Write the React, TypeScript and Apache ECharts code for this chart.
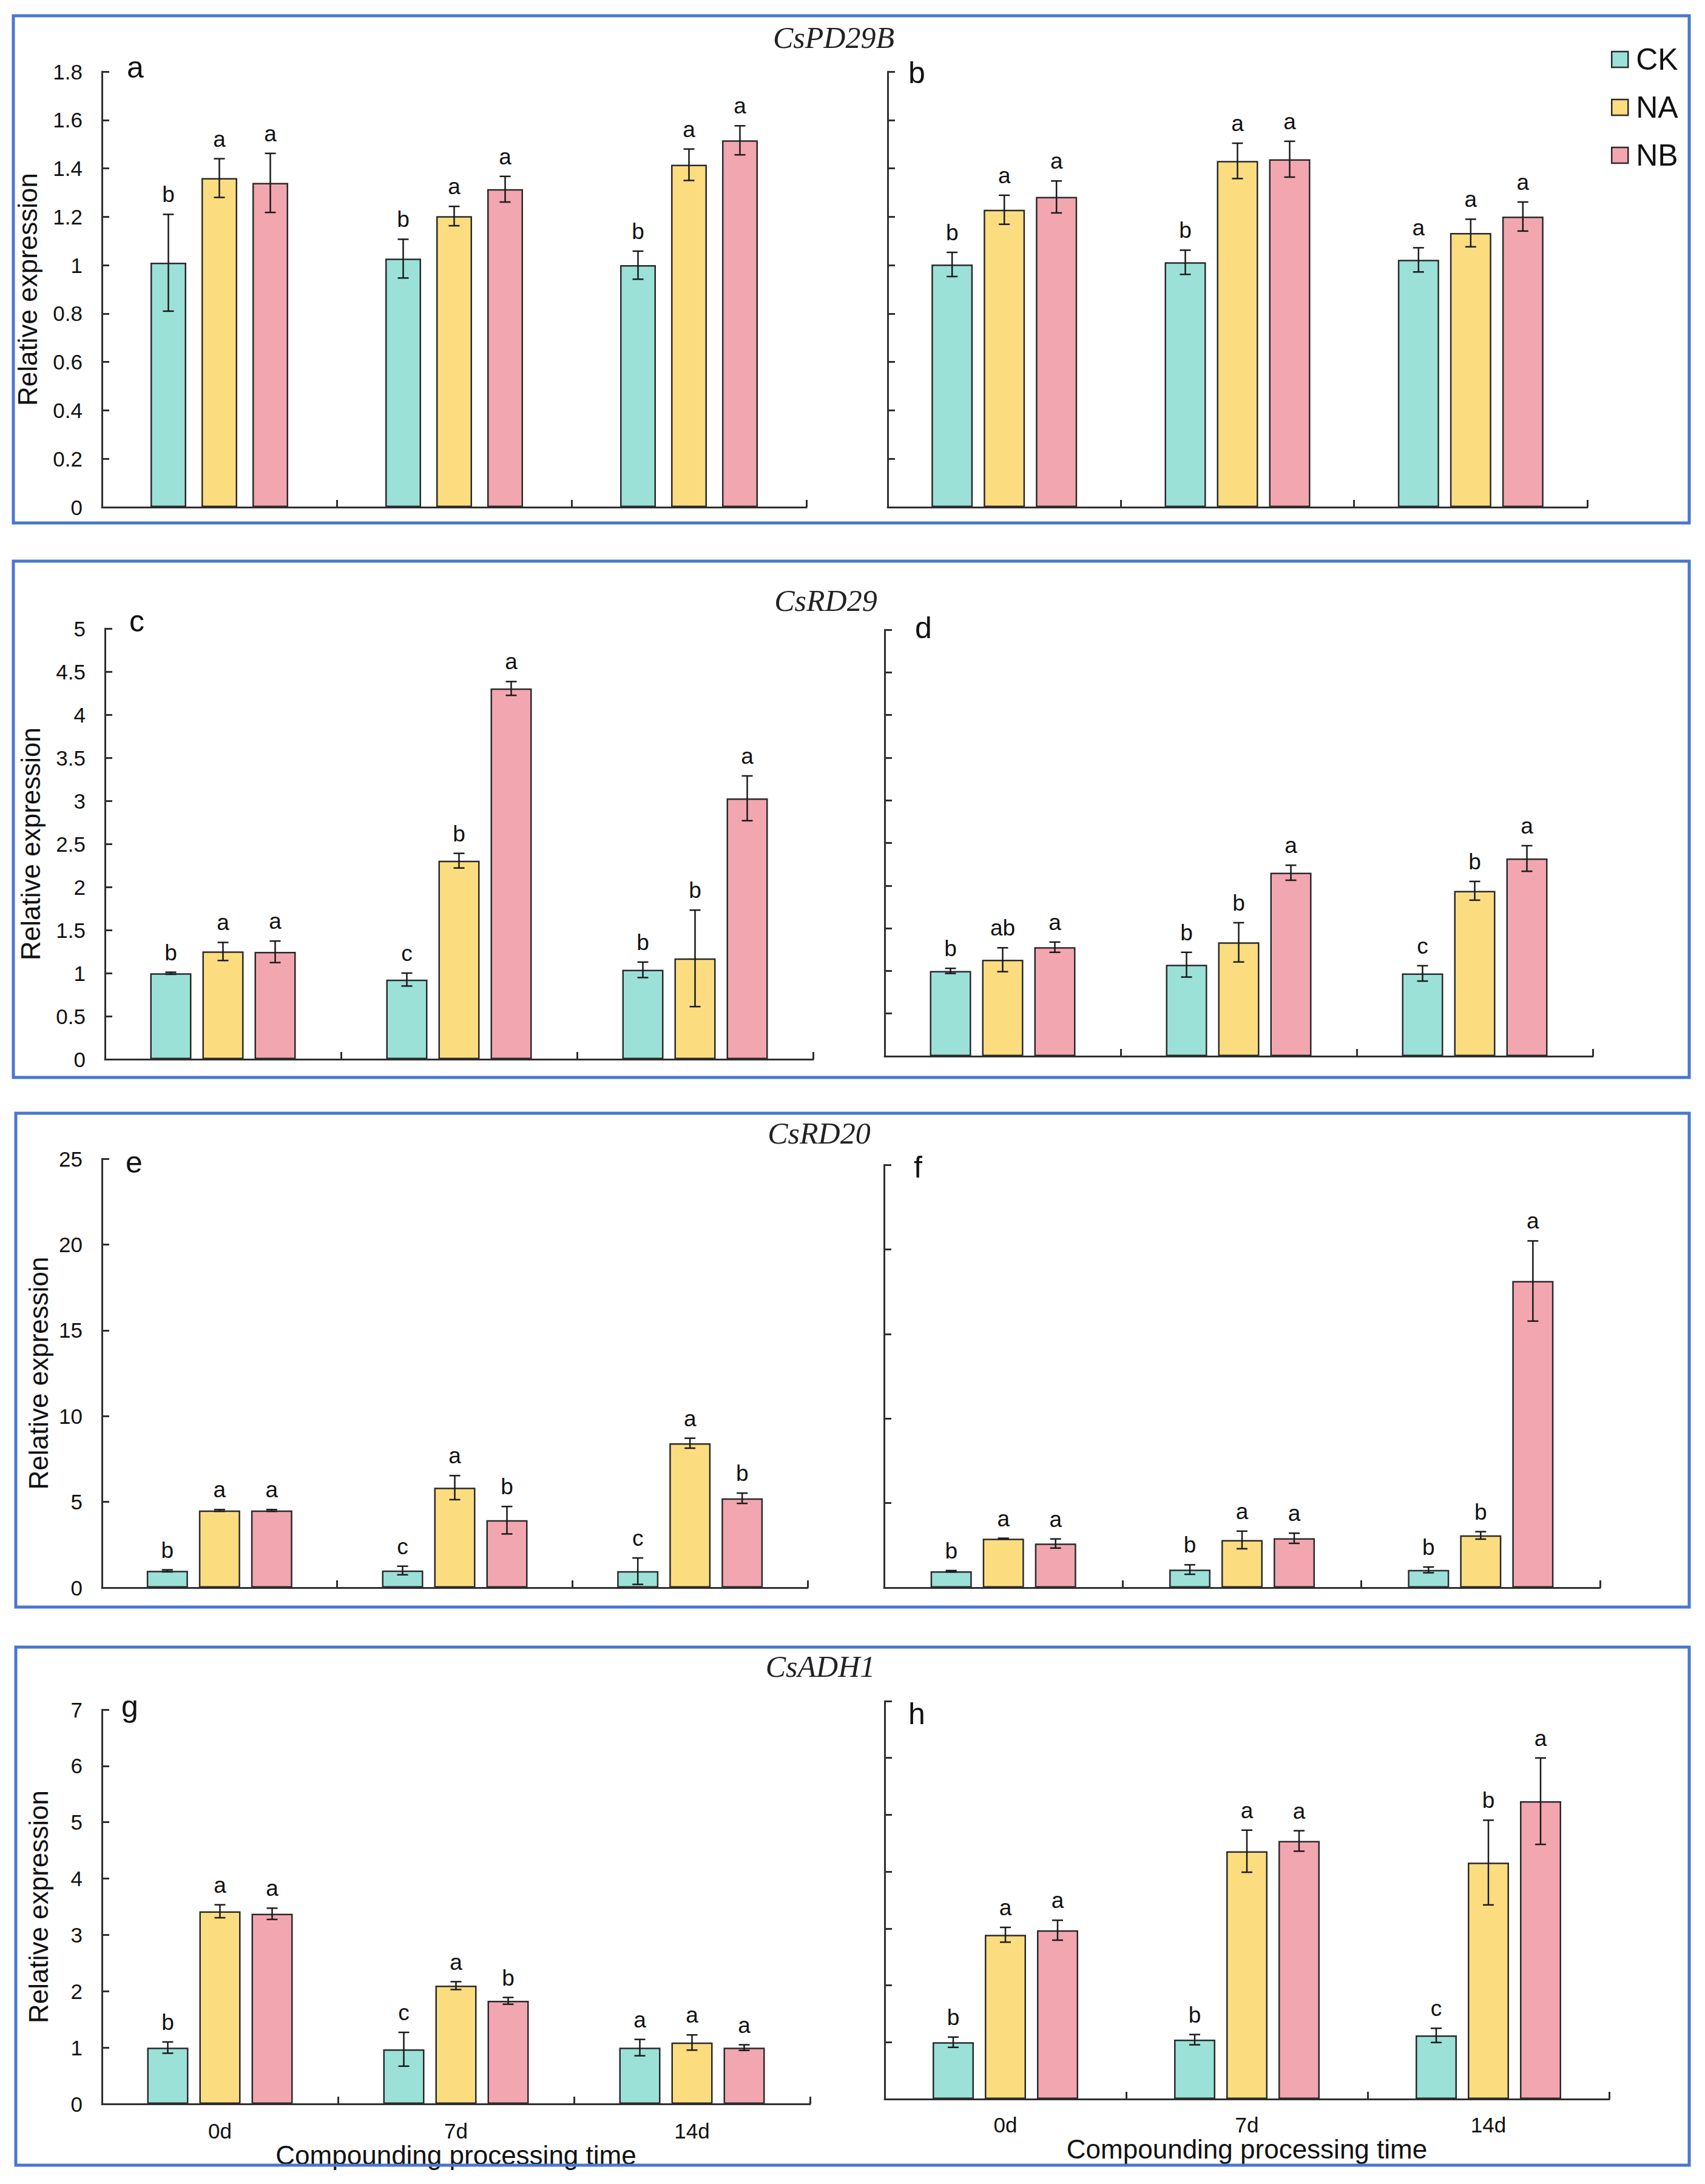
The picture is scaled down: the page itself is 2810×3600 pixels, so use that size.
import React, { useEffect, useRef } from 'react';
import * as echarts from 'echarts';

const categories = ['0d', '7d', '14d'];
const groups = ['CK', 'NA', 'NB'];
const groupColors = ['#9BE1D8', '#FBDD80', '#F2A6AF'];
const geneTitles = ['CsPD29B', 'CsRD29', 'CsRD20', 'CsADH1'];
const panelLetters = ['a', 'b', 'c', 'd', 'e', 'f', 'g', 'h'];
const yMax = [1.8, 1.8, 5, 5, 25, 25, 7, 7];
const yStep = [0.2, 0.2, 0.5, 0.5, 5, 5, 1, 1];
const xTitle = 'Compounding processing time';
const yTitle = 'Relative expression';

// rows: CK, NA, NB ; columns: 0d, 7d, 14d
const aMean = [[1.01, 1.027, 1.0], [1.36, 1.203, 1.415], [1.34, 1.314, 1.516]];
const aErr = [[0.2, 0.08, 0.058], [0.08, 0.04, 0.065], [0.122, 0.053, 0.06]];
const aSig = [['b', 'b', 'b'], ['a', 'a', 'a'], ['a', 'a', 'a']];

const bMean = [[1.003, 1.012, 1.022], [1.229, 1.431, 1.133], [1.282, 1.438, 1.201]];
const bErr = [[0.05, 0.05, 0.05], [0.06, 0.073, 0.057], [0.066, 0.074, 0.06]];
const bSig = [['b', 'b', 'a'], ['a', 'a', 'a'], ['a', 'a', 'a']];

const cMean = [[0.998, 0.925, 1.038], [1.251, 2.305, 1.171], [1.247, 4.304, 3.029]];
const cErr = [[0.012, 0.075, 0.09], [0.105, 0.085, 0.56], [0.125, 0.08, 0.26]];
const cSig = [['b', 'c', 'b'], ['a', 'b', 'b'], ['a', 'a', 'a']];

const dMean = [[1.0, 1.073, 0.971], [1.131, 1.335, 1.939], [1.278, 2.151, 2.318]];
const dErr = [[0.03, 0.145, 0.09], [0.14, 0.23, 0.11], [0.06, 0.088, 0.15]];
const dSig = [['b', 'b', 'c'], ['ab', 'b', 'b'], ['a', 'a', 'a']];

const eMean = [[0.98, 1.0, 0.96], [4.5, 5.83, 8.42], [4.5, 3.93, 5.21]];
const eErr = [[0.06, 0.25, 0.77], [0.05, 0.7, 0.29], [0.05, 0.8, 0.3]];
const eSig = [['b', 'c', 'c'], ['a', 'a', 'a'], ['a', 'b', 'b']];

const fMean = [[0.97, 1.07, 1.05], [2.9, 2.82, 3.09], [2.61, 2.92, 18.13]];
const fErr = [[0.04, 0.28, 0.17], [0.02, 0.52, 0.22], [0.27, 0.3, 2.37]];
const fSig = [['b', 'b', 'b'], ['a', 'a', 'b'], ['a', 'a', 'a']];

const gMean = [[1.0, 0.97, 1.0], [3.42, 2.1, 1.09], [3.375, 1.83, 1.0]];
const gErr = [[0.1, 0.3, 0.145], [0.115, 0.07, 0.135], [0.1, 0.06, 0.05]];
const gSig = [['b', 'c', 'a'], ['a', 'a', 'a'], ['a', 'b', 'a']];

const hMean = [[1.0, 1.045, 1.12], [2.89, 4.36, 4.16], [2.97, 4.54, 5.24]];
const hErr = [[0.09, 0.09, 0.125], [0.13, 0.37, 0.745], [0.175, 0.18, 0.76]];
const hSig = [['b', 'b', 'c'], ['a', 'a', 'b'], ['a', 'a', 'a']];

const panelMeans = [aMean, bMean, cMean, dMean, eMean, fMean, gMean, hMean];
const panelErrs = [aErr, bErr, cErr, dErr, eErr, fErr, gErr, hErr];
const panelSigs = [aSig, bSig, cSig, dSig, eSig, fSig, gSig, hSig];

const SANS = '"Liberation Sans", Arial, Helvetica, sans-serif';
const SERIF = '"Liberation Serif", "Times New Roman", serif';

// layout
const grids = [
  { left: 168, top: 118, width: 1161, height: 718 },
  { left: 1463, top: 118, width: 1153, height: 718 },
  { left: 173, top: 1036, width: 1167, height: 710 },
  { left: 1458, top: 1038, width: 1167, height: 703 },
  { left: 168, top: 1910, width: 1163, height: 707 },
  { left: 1457, top: 1920, width: 1180, height: 697 },
  { left: 168, top: 2818, width: 1167, height: 650 },
  { left: 1458, top: 2804, width: 1194, height: 656 },
];
const barWidths = [59, 68, 68, 68, 68, 68, 68, 68];
const barSteps = [84, 86, 86, 86, 86, 86, 86, 86];
const yNameGaps = [101, 0, 101, 0, 83, 0, 83, 0];
const frames = [
  { x: 22, y: 26, w: 2762, h: 836 },
  { x: 22, y: 925, w: 2762, h: 851 },
  { x: 26, y: 1835, w: 2758, h: 814 },
  { x: 26, y: 2715, w: 2758, h: 854 },
];
const titlePos = [
  [1374, 62],
  [1361, 990],
  [1350, 1868],
  [1352, 2747],
];
const letterPos = [
  [209, 128], [1497, 137], [213, 1041], [1508, 1052],
  [207, 1933], [1506, 1941], [200, 2830], [1497, 2842],
];

function buildOption() {
  const xAxis: any[] = [];
  const yAxis: any[] = [];
  const series: any[] = [];
  const graphic: any[] = [];

  for (let p = 0; p < 8; p++) {
    const isLeft = p % 2 === 0;
    const isBottom = p >= 6;
    xAxis.push({
      type: 'category',
      gridIndex: p,
      data: categories,
      boundaryGap: true,
      axisLine: { show: true, lineStyle: { color: '#2f2f2f', width: 3 } },
      axisTick: { show: true, inside: true, length: 12, lineStyle: { color: '#2f2f2f', width: 3 } },
      axisLabel: {
        show: isBottom,
        fontSize: 35,
        fontFamily: SANS,
        color: '#111',
        margin: isLeft ? 27 : 25,
      },
      name: isBottom ? xTitle : '',
      nameLocation: 'middle',
      nameGap: isLeft ? 52 : 55,
      nameTextStyle: { fontSize: 44, fontFamily: SANS, color: '#111', verticalAlign: 'top' },
      splitLine: { show: false },
    });
    yAxis.push({
      type: 'value',
      gridIndex: p,
      min: 0,
      max: yMax[p],
      interval: yStep[p],
      axisLine: { show: true, lineStyle: { color: '#2f2f2f', width: 3 } },
      axisTick: { show: true, inside: true, length: 12, lineStyle: { color: '#2f2f2f', width: 3 } },
      axisLabel: {
        show: isLeft,
        fontSize: 35,
        fontFamily: SANS,
        color: '#111',
        margin: 32,
      },
      splitLine: { show: false },
      name: isLeft ? yTitle : '',
      nameLocation: 'middle',
      nameRotate: 90,
      nameGap: yNameGaps[p],
      nameTextStyle: { fontSize: 44, fontFamily: SANS, color: '#111' },
    });

    const means = panelMeans[p];
    const errs = panelErrs[p];
    const sigs = panelSigs[p];
    const bw = barWidths[p];
    const step = barSteps[p];
    for (let g = 0; g < 3; g++) {
      series.push({
        type: 'bar',
        name: groups[g],
        xAxisIndex: p,
        yAxisIndex: p,
        data: means[g],
        barWidth: bw,
        barGap: ((step - bw) / bw) * 100 + '%',
        itemStyle: { color: groupColors[g], borderColor: '#2a2a2a', borderWidth: 2.5 },
        z: 2,
      });
    }
    const errData: number[][] = [];
    for (let g = 0; g < 3; g++) {
      for (let c = 0; c < 3; c++) {
        errData.push([c, means[g][c], errs[g][c], g]);
      }
    }
    series.push({
      type: 'custom',
      xAxisIndex: p,
      yAxisIndex: p,
      z: 10,
      silent: true,
      data: errData,
      renderItem: (params: any, api: any) => {
        const c = api.value(0);
        const m = api.value(1);
        const e = api.value(2);
        const g = api.value(3);
        const base = api.coord([c, m]);
        const hi = api.coord([c, m + e]);
        const lo = api.coord([c, m - e]);
        const x = base[0] + (g - 1) * step;
        const st = { stroke: '#1a1a1a', lineWidth: 2.5 };
        return {
          type: 'group',
          children: [
            { type: 'line', shape: { x1: x, y1: hi[1], x2: x, y2: lo[1] }, style: st },
            { type: 'line', shape: { x1: x - 9, y1: hi[1], x2: x + 9, y2: hi[1] }, style: st },
            { type: 'line', shape: { x1: x - 9, y1: lo[1], x2: x + 9, y2: lo[1] }, style: st },
            {
              type: 'text',
              x: x,
              y: hi[1] - 14,
              style: {
                text: sigs[g][c],
                fontSize: 37,
                fontFamily: SANS,
                fill: '#111',
                align: 'center',
                verticalAlign: 'bottom',
                textAlign: 'center',
                textVerticalAlign: 'bottom',
              },
            },
          ],
        };
      },
    });

    graphic.push({
      type: 'text',
      left: letterPos[p][0],
      top: letterPos[p][1] - 42,
      style: { text: panelLetters[p], fontSize: 50, fontFamily: SANS, fill: '#111' },
    });
  }

  for (let i = 0; i < 4; i++) {
    const f = frames[i];
    graphic.push({
      type: 'rect',
      shape: { x: f.x, y: f.y, width: f.w, height: f.h },
      style: { fill: 'none', stroke: '#4A76D0', lineWidth: 5 },
      z: 100,
    });
    graphic.push({
      type: 'text',
      x: titlePos[i][0],
      y: titlePos[i][1],
      style: {
        text: geneTitles[i],
        fontSize: 50,
        fontStyle: 'italic',
        fontFamily: SERIF,
        fill: '#222',
        align: 'center',
        verticalAlign: 'middle',
        textAlign: 'center',
        textVerticalAlign: 'middle',
      },
    });
  }

  return {
    animation: false,
    backgroundColor: '#ffffff',
    textStyle: { fontFamily: SANS },
    grid: grids.map((g) => ({ ...g, containLabel: false })),
    xAxis,
    yAxis,
    legend: {
      data: groups,
      orient: 'vertical',
      left: 2650,
      top: 68,
      itemWidth: 27,
      itemHeight: 26,
      itemGap: 29,
      icon: 'rect',
      itemStyle: { borderColor: '#2a2a2a', borderWidth: 2.5 },
      textStyle: { fontSize: 50, lineHeight: 50, fontFamily: SANS, color: '#111', padding: [0, 0, 0, 8] },
      selectedMode: false,
    },
    series,
    graphic,
  };
}

export default function App() {
  const ref = useRef<HTMLDivElement>(null);
  useEffect(() => {
    if (!ref.current) return;
    const chart = echarts.init(ref.current, undefined, { renderer: 'svg' });
    chart.setOption(buildOption() as any);
    return () => {
      chart.dispose();
    };
  }, []);
  return (
    <div
      ref={ref}
      style={{ position: 'absolute', left: 0, top: 0, width: 2810, height: 3600, background: '#fff' }}
    />
  );
}
